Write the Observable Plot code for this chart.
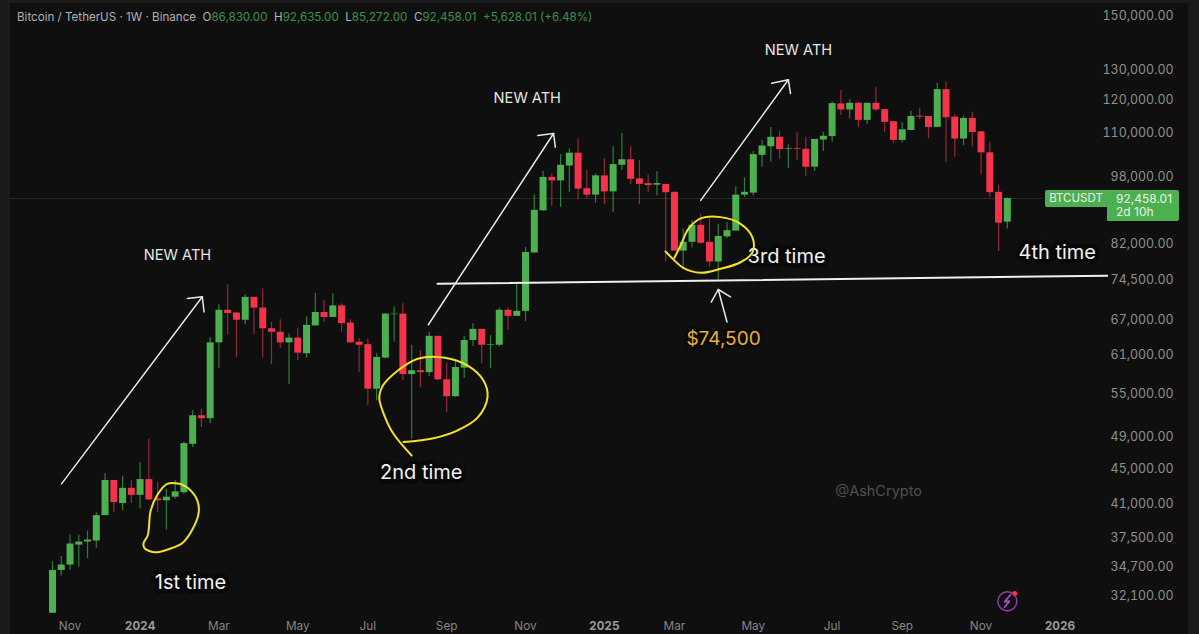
<!DOCTYPE html>
<html>
<head>
<meta charset="utf-8">
<script src="https://cdn.jsdelivr.net/npm/d3@7"></script>
<script src="https://cdn.jsdelivr.net/npm/@observablehq/plot@0.6"></script>
<style>
html,body{margin:0;padding:0;background:#1b1b1b;width:1199px;height:634px;overflow:hidden;font-family:Inter,"Noto Sans",sans-serif}
#pane{position:absolute;left:10px;top:3px;width:1178px;height:631px;background:#0f0f0f}
#chart{position:absolute;left:0;top:0}
#legend{position:absolute;left:17px;top:10px;font-size:11.6px;line-height:14px;color:#aeb1b6;white-space:pre}
#legend b{font-weight:400;color:#3f8f4c}
.tag{position:absolute;background:#4caf50;color:#e9f5ea;font-size:12px;box-sizing:border-box}
</style>
</head>
<body>
<div id="pane"></div>
<div id="chart"></div>
<div id="legend">Bitcoin / TetherUS · 1W · Binance  O<b>86,830.00</b>  H<b>92,635.00</b>  L<b>85,272.00</b>  C<b>92,458.01</b>  <b>+5,628.01 (+6.48%)</b></div>
<div class="tag" style="left:1045px;top:190px;width:62px;height:17px;line-height:17px;text-align:center;border-radius:2px 0 0 2px;font-size:11.5px">BTCUSDT</div>
<div class="tag" style="left:1107px;top:190px;width:72px;height:31px;padding:2px 0 0 9px;line-height:13px;border-radius:0 2px 2px 0">92,458.01<br>2d 10h</div>
<script>
// Weekly candles starting the week of 23 Oct 2023, values in thousands of USDT
const firstWeek = Date.UTC(2023, 9, 23);
const wk = (i) => new Date(firstWeek + i * 7 * 864e5);

const opens = [30.7,34.4,34.9,36.8,37.1,37.2,39.8,43.7,41.1,42.8,42.0,43.8,41.6,41.4,41.8,42.3,48.1,51.9,51.5,63.0,68.7,68.2,66.9,71.1,69.1,65.4,64.8,63.0,63.8,61.2,65.9,68.3,67.4,69.5,66.4,63.1,62.7,55.7,60.5,67.9,68.0,57.9,58.5,58.2,64.1,57.1,54.6,58.9,63.4,65.3,62.6,62.6,68.7,67.6,68.5,80.0,89.5,97.8,96.9,100.8,104.3,94.9,93.3,98.2,94.1,101.0,102.5,97.4,96.2,95.8,96.0,94.0,80.4,82.3,86.1,82.3,78.1,83.5,84.8,93.3,93.8,103.7,106.1,108.8,105.4,105.6,105.4,100.5,108.0,109.0,118.9,117.0,119.1,113.8,119.1,117.1,113.4,107.9,110.8,115.1,115.0,111.7,123.5,114.8,108.3,114.4,110.4,104.4,94.0,86.83];
const closes = [34.4,34.9,36.9,37.1,37.3,39.8,43.7,41.2,42.8,42.0,43.8,41.5,41.4,41.8,42.4,48.2,51.9,51.5,63.0,68.7,68.1,66.9,71.1,69.1,65.4,64.8,63.0,63.8,61.3,66.0,68.3,67.4,69.5,66.3,63.0,62.6,55.7,60.6,68.0,68.0,57.9,58.5,58.2,64.1,57.1,54.6,59.0,63.4,65.3,62.6,62.7,68.7,67.6,68.5,80.1,89.6,97.8,96.9,101.0,104.3,94.8,93.3,98.2,94.1,101.2,102.5,97.3,96.0,95.7,96.2,93.9,80.4,82.3,86.1,82.1,78.1,83.6,84.9,93.3,94.0,103.9,106.3,108.8,105.3,105.6,105.4,100.5,108.2,109.1,119.0,117.0,119.1,113.8,119.1,117.0,113.2,107.9,111.0,115.0,114.8,111.7,123.5,114.6,108.3,114.4,110.2,104.4,93.9,86.6,92.45801];
const highs = [35.2,35.7,37.8,37.8,38.2,40.1,44.5,43.7,44.2,43.7,45.8,48.8,43.5,42.7,43.7,48.4,52.6,52.8,63.9,69.7,73.5,68.3,71.6,71.1,72.7,66.5,67.0,64.5,65.5,67.5,71.9,70.5,71.8,69.9,67.0,63.7,63.7,61.2,68.1,69.3,69.9,62.6,61.7,64.8,64.1,59.7,60.0,64.1,66.3,65.3,64.2,69.1,69.1,73.5,81.2,93.4,99.4,98.7,103.9,105.5,108.4,99.6,98.7,102.8,106.1,109.9,106.1,102.3,98.4,99.3,96.0,94.0,85.2,87.2,88.7,87.6,86.3,86.7,95.4,97.7,104.8,107.9,111.7,110.6,106.7,110.3,108.8,108.2,110.3,119.6,123.2,120.2,119.4,119.1,124.3,117.1,113.4,113.2,116.6,117.5,115.0,125.6,126.1,115.5,115.2,116.3,110.4,107.4,95.8,92.635];
const lows = [30.7,33.9,34.4,34.7,35.5,36.5,39.8,40.1,40.3,41.1,40.5,41.4,40.1,38.3,41.6,42.1,47.7,50.3,50.8,58.9,64.4,60.6,66.1,64.4,60.5,59.4,62.1,56.4,60.1,60.5,65.9,66.5,67.4,64.8,63.0,58.2,53.3,54.0,60.4,63.1,57.0,48.8,55.9,57.6,57.0,52.3,54.5,57.3,62.4,59.6,58.8,62.3,65.1,67.6,66.7,80.0,89.3,90.5,90.3,94.0,92.1,92.4,91.3,90.9,89.1,99.6,95.9,90.9,94.0,93.1,78.2,80.4,77.0,81.1,81.8,77.0,74.5,83.1,84.8,92.7,93.1,100.5,101.8,102.6,100.2,102.3,98.1,99.4,104.8,107.4,115.3,114.2,111.7,112.5,116.6,110.3,107.1,107.2,110.8,114.0,108.4,111.6,101.8,103.2,106.4,106.1,98.6,92.8,80.3,85.272];

const yTicks = [150000,130000,120000,110000,98000,82000,74500,67000,61000,55000,49000,45000,41000,37500,34700,32100];
const monthTicks = ["2023-11-06","2024-03-04","2024-05-06","2024-07-01","2024-09-02","2024-11-04","2025-03-03","2025-05-05","2025-07-07","2025-09-01","2025-11-03"];
const yearTicks = ["2024-01-01","2025-01-06","2026-01-05"];
const lastClose = 92.45801;

// Drawn annotations: [week number, price in thousands]
const arrow1 = [[1.03,43.3],[17.1,71.2]];
const arrow1Head = [[15.4,70.9],[17.1,71.2],[17.3,68.4]];
const arrow2 = [[42.9,66.1],[57.2,109.9]];
const arrow2Head = [[55.4,109.3],[57.2,109.9],[57.4,106.0]];
const arrow3 = [[74.0,92.0],[84.0,126.8]];
const arrow3Head = [[82.1,125.6],[84.0,126.8],[84.25,122.2]];
const arrow4 = [[77.0,66.6],[76.0,72.6]];
const arrow4Head = [[75.2,70.2],[76.0,72.6],[77.4,71.2]];
const supportLine = [[43.95,73.7],[120.4,75.3]];
const circle1 = [[14.6,43.3],[13.1,43.3],[12.0,42.1],[11.2,40.3],[11.0,38.5],[10.85,37.7],[10.4,37.0],[10.5,36.5],[11.76,36.1],[13.24,36.4],[14.84,37.0],[16.0,38.4],[16.67,40.0],[16.55,41.4],[15.5,42.8],[14.6,43.3]];
const circle2 = [[41.0,46.7],[38.9,49.5],[37.8,52.2],[37.3,54.5],[37.7,56.2],[39.4,58.5],[41.7,60.4],[44.6,60.6],[47.4,59.3],[49.2,57.0],[49.66,54.5],[48.5,51.6],[46.2,49.9],[43.5,48.9],[40.07,48.4]];
const circle3 = [[69.98,80.3],[70.9,78.6],[72.0,76.9],[74.0,75.9],[76.26,76.7],[78.5,78.0],[79.9,80.1],[79.9,83.4],[78.5,86.5],[76.26,88.0],[74.0,87.7],[72.6,85.3],[71.7,81.6],[71.0,79.0]];
const bolt = [[109.36,32.25],[108.68,31.65],[109.25,31.7],[108.68,31.2]];

const athLabels = [["NEW ATH",14.27,79.4],["NEW ATH",54.2,120.6],["NEW ATH",85.16,137.0]];
const timeLabels = [["1st time",15.75,33.3],["2nd time",42.1,44.6],["3rd time",83.8,79.2],["4th time",114.7,80.1]];

const GREEN = "#4caf50", RED = "#f5334a", GREEN_W = "#2f7d3b", RED_W = "#95293a";
const candles = opens.map((o,i)=>({date:wk(i),o:o*1e3,c:closes[i]*1e3,h:highs[i]*1e3,l:lows[i]*1e3,up:closes[i]>=o}));
const pts = (a)=>a.map(([w,p])=>({x:wk(w),y:p*1e3}));
const lineOf = (a,o)=>Plot.line(pts(a),{x:"x",y:"y",...o});
const lab = (a)=>a.map(([t,w,p])=>({t,x:wk(w),y:p*1e3}));
const penArrow = {stroke:"#dfeee1",strokeWidth:1.5};
const pen = {stroke:"#f4e12b",strokeWidth:2,curve:"catmull-rom"};

const chart = Plot.plot({
  width:1199,height:634,
  marginLeft:52,marginRight:26,marginTop:16,marginBottom:38,
  style:{background:"transparent",fontFamily:"Inter, 'Noto Sans', sans-serif"},
  color:{type:"identity"},
  x:{type:"utc",domain:[wk(0),wk(127.97)],label:null},
  y:{type:"log",domain:[32100,150000],label:null},
  marks:[
    Plot.ruleY([lastClose*1e3],{x1:wk(-4.8),x2:wk(113.1),stroke:"#2b2b26",strokeWidth:1}),
    Plot.ruleX(candles,{x:"date",y1:"l",y2:"h",stroke:d=>d.up?GREEN_W:RED_W,strokeWidth:1.2}),
    Plot.ruleX(candles,{x:"date",y1:"o",y2:"c",stroke:d=>d.up?GREEN:RED,strokeWidth:7}),
    Plot.text(lab(timeLabels),{x:"x",y:"y",text:"t",fill:"#f2f2f2",fontSize:20,stroke:"#080808",strokeWidth:9}),
    lineOf(supportLine,{stroke:"#f0f0f0",strokeWidth:2}),
    lineOf(circle1,pen),lineOf(circle2,pen),lineOf(circle3,pen),
    lineOf(arrow1,penArrow),lineOf(arrow1Head,penArrow),
    lineOf(arrow2,penArrow),lineOf(arrow2Head,penArrow),
    lineOf(arrow3,penArrow),lineOf(arrow3Head,penArrow),
    lineOf(arrow4,penArrow),lineOf(arrow4Head,penArrow),
    Plot.text(lab(athLabels),{x:"x",y:"y",text:"t",fill:"#e6e6e6",fontSize:14.6}),
    Plot.text(lab([["$74,500",76.6,63.6]]),{x:"x",y:"y",text:"t",fill:"#e8b030",fontSize:19,stroke:"#0a0a0a",strokeWidth:6}),
    Plot.text(lab([["@AshCrypto",94.3,42.4]]),{x:"x",y:"y",text:"t",fill:"#505050",fontSize:14.5}),
    Plot.dot(pts([[109,31.7]]),{x:"x",y:"y",r:9.5,stroke:"#8e3fa8",strokeWidth:1.5,fill:"none"}),
    lineOf(bolt,{stroke:"#a24fc0",strokeWidth:1.8}),
    Plot.dot(pts([[109.85,32.35]]),{x:"x",y:"y",r:2.5,fill:"#f5334a"}),
    Plot.axisY({ticks:yTicks,anchor:"right",tickSize:0,tickPadding:0,textAnchor:"end",label:null,
      tickFormat:d3.format(",.2f"),fontSize:12.4,fill:"#8f8f8f"}),
    Plot.axisX({ticks:monthTicks.map(d=>new Date(d)),tickSize:0,tickPadding:25,label:null,
      tickFormat:d3.utcFormat("%b"),fontSize:11.8,fill:"#858585"}),
    Plot.axisX({ticks:yearTicks.map(d=>new Date(d)),tickSize:0,tickPadding:25,label:null,
      tickFormat:d3.utcFormat("%Y"),fontSize:11.8,fontWeight:700,fill:"#9a9a9a"})
  ]
});
document.getElementById("chart").append(chart);
</script>
</body>
</html>
